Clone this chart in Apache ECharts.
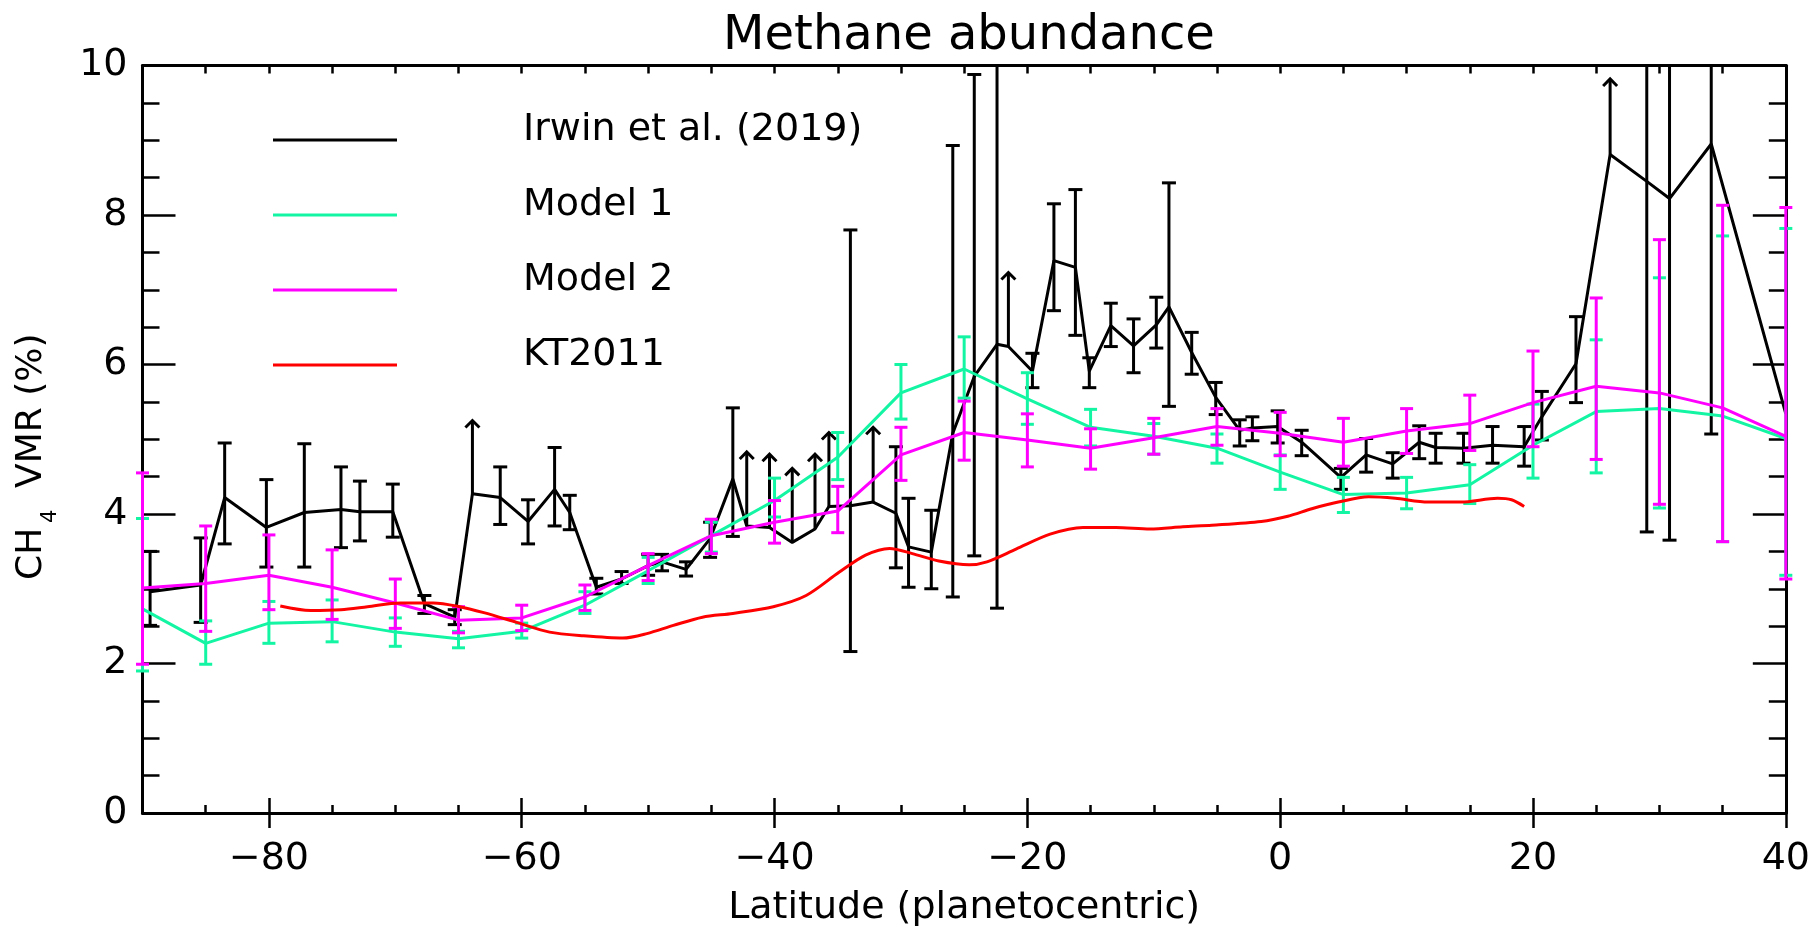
<!DOCTYPE html>
<html>
<head>
<meta charset="utf-8">
<title>Methane abundance</title>
<script src="https://cdn.jsdelivr.net/npm/echarts@6/dist/echarts.min.js"></script>
<style>
  html, body { margin: 0; padding: 0; background: #ffffff; }
  #chart { width: 1813px; height: 932px; }
</style>
</head>
<body>
<div id="chart"></div>
<script>
// Irwin et al. (2019): latitude (deg), CH4 VMR (%), lower / upper bounds.
// Points that are only lower limits have null bounds and an arrow tip value instead.
const irwinLat = [-89.4, -85.4, -83.5, -80.2, -77.2, -74.3, -72.8, -70.2, -67.7, -65.3,
  -63.9, -61.7, -59.5, -57.4, -56.2, -54.1, -52.1, -50.0, -48.9, -47.0,
  -45.1, -43.3, -42.2, -40.4, -38.6, -36.8, -35.7, -34.0, -32.2, -30.4,
  -29.4, -27.6, -25.9, -24.2, -22.4, -21.5, -19.6, -17.9, -16.2, -15.1,
  -13.4, -11.6, -9.8, -8.8, -7.0, -5.1, -3.2, -2.2, -0.2, 1.7,
  4.8, 6.8, 8.9, 11.0, 12.3, 14.5, 16.8, 19.3, 20.7, 23.4,
  26.1, 29.0, 30.8, 34.1, 40.0];
const irwinVmr = [2.96, 3.05, 4.22, 3.82, 4.02, 4.06, 4.03, 4.03, 2.80, 2.62,
  4.27, 4.22, 3.90, 4.33, 4.02, 3.02, 3.13, 3.31, 3.36, 3.26,
  3.67, 4.47, 3.84, 3.82, 3.62, 3.80, 4.10, 4.11, 4.16, 4.01,
  3.56, 3.49, 5.08, 5.84, 6.27, 6.24, 5.91, 7.39, 7.30, 5.91,
  6.52, 6.25, 6.53, 6.77, 6.16, 5.56, 5.12, 5.15, 5.17, 4.96,
  4.49, 4.79, 4.67, 4.96, 4.89, 4.88, 4.92, 4.90, 5.30, 6.01,
  8.81, 8.45, 8.22, 8.95, 5.34];
const irwinLow = [2.51, 2.55, 3.60, 3.29, 3.29, 3.55, 3.64, 3.69, 2.67, 2.52,
  null, 3.86, 3.60, 3.84, 3.79, 2.93, 3.07, 3.18, 3.24, 3.17,
  3.42, 3.70, null, null, null, null, null, 2.16, null, 3.28,
  3.02, 3.00, 2.89, 3.44, 2.74, null, 5.69, 6.72, 6.39, 5.69,
  6.24, 5.89, 6.22, 5.44, 5.87, 5.33, 4.91, 4.98, 4.95, 4.78,
  4.33, 4.56, 4.48, 4.74, 4.68, 4.68, 4.68, 4.64, 4.99, 5.49,
  null, 3.76, 3.65, 5.07, null];
const irwinHigh = [3.50, 3.68, 4.95, 4.46, 4.94, 4.63, 4.44, 4.40, 2.91, 2.72,
  null, 4.63, 4.19, 4.89, 4.25, 3.14, 3.23, 3.46, 3.46, 3.36,
  3.89, 5.42, null, null, null, null, null, 7.80, null, 4.90,
  4.21, 4.05, 8.93, 9.88, 14.3, null, 6.15, 8.15, 8.34, 6.09,
  6.82, 6.61, 6.90, 8.43, 6.43, 5.76, 5.26, 5.30, 5.38, 5.12,
  4.61, 5.01, 4.82, 5.18, 5.08, 5.08, 5.17, 5.17, 5.64, 6.64,
  null, 19.0, 18.5, 15.8, null];
const irwinTip = [null, null, null, null, null, null, null, null, null, null,
  5.25, null, null, null, null, null, null, null, null, null,
  null, null, 4.83, 4.80, 4.61, 4.80, 5.09, null, 5.16, null,
  null, null, null, null, null, 7.23, null, null, null, null,
  null, null, null, null, null, null, null, null, null, null,
  null, null, null, null, null, null, null, null, null, null,
  9.82, null, null, null, null];

// Model grid: every 5 degrees of latitude
const modelLat = [-90, -85, -80, -75, -70, -65, -60, -55, -50, -45, -40, -35, -30, -25,
  -20, -15, -10, -5, 0, 5, 10, 15, 20, 25, 30, 35, 40];
const model1Vmr = [2.73, 2.27, 2.54, 2.56, 2.42, 2.33, 2.43, 2.78, 3.24, 3.71, 4.18, 4.76, 5.62, 5.94,
  5.54, 5.16, 5.04, 4.88, 4.56, 4.26, 4.28, 4.39, 4.92, 5.37, 5.41, 5.31, 5.01];
const model1Low = [1.90, 1.99, 2.27, 2.29, 2.23, 2.21, 2.34, 2.67, 3.07, 3.49, 3.96, 4.46, 5.27, 5.55,
  5.20, 4.91, 4.80, 4.68, 4.33, 4.02, 4.07, 4.14, 4.48, 4.55, 4.08, 3.63, 3.18];
const model1High = [3.94, 2.57, 2.83, 2.85, 2.61, 2.43, 2.54, 2.96, 3.42, 3.89, 4.48, 5.09, 6.00, 6.37,
  5.89, 5.40, 5.21, 5.07, 4.79, 4.49, 4.49, 4.66, 5.47, 6.33, 7.16, 7.72, 7.82];
const model2Vmr = [3.01, 3.07, 3.18, 3.02, 2.81, 2.58, 2.61, 2.89, 3.31, 3.71, 3.89, 4.04, 4.79, 5.09,
  4.99, 4.88, 5.02, 5.17, 5.08, 4.96, 5.11, 5.21, 5.49, 5.71, 5.62, 5.42, 5.04];
const model2Low = [1.99, 2.43, 2.72, 2.59, 2.47, 2.41, 2.44, 2.71, 3.11, 3.47, 3.61, 3.75, 4.45, 4.72,
  4.63, 4.60, 4.80, 4.92, 4.78, 4.64, 4.81, 4.85, 4.90, 4.73, 4.13, 3.63, 3.13];
const model2High = [4.55, 3.84, 3.72, 3.52, 3.13, 2.76, 2.78, 3.05, 3.47, 3.93, 4.18, 4.37, 5.16, 5.51,
  5.34, 5.14, 5.28, 5.41, 5.36, 5.28, 5.41, 5.59, 6.18, 6.89, 7.67, 8.13, 8.10];

// KT2011 profile
const ktLat = [-79.1, -76.7, -74.3, -72.2, -69.6, -67.0, -64.9, -63.0, -60.4, -57.8,
  -55.1, -52.0, -50.1, -48.0, -45.7, -43.3, -40.1, -37.5, -34.9, -32.8,
  -30.9, -29.1, -27.0, -24.6, -23.2, -20.9, -18.2, -15.6, -13.0, -10.3,
  -7.7, -5.4, -1.5, 0.6, 2.5, 4.6, 7.0, 9.1, 11.7, 14.3,
  17.2, 18.3, 19.3];
const ktVmr = [2.77, 2.71, 2.72, 2.76, 2.81, 2.81, 2.76, 2.68, 2.55, 2.42,
  2.37, 2.34, 2.40, 2.51, 2.62, 2.67, 2.76, 2.91, 3.22, 3.45,
  3.54, 3.47, 3.37, 3.32, 3.36, 3.53, 3.73, 3.82, 3.82, 3.80,
  3.83, 3.85, 3.90, 3.97, 4.07, 4.16, 4.23, 4.21, 4.16, 4.16,
  4.21, 4.19, 4.10];

// Axis ticks and legend entries
const xLabelValues = [-80, -60, -40, -20, 0, 20, 40];
const yLabelValues = [0, 2, 4, 6, 8, 10];
const seriesNames = ['Irwin et al. (2019)', 'Model 1', 'Model 2', 'KT2011'];

const COLORS = { irwin: '#000000', model1: '#14f5a4', model2: '#ff00ff', kt: '#ff0000' };
const FONT = 'DejaVu Sans';
const LINE_W = 3;

const pairs = (xs, ys) => xs.map((x, i) => [x, ys[i]]);

// [lat, from, to, kind] ; kind 0 = capped error bar, 1 = lower-limit arrow
const irwinBars = [];
irwinLat.forEach((lat, i) => {
  if (irwinLow[i] != null && irwinHigh[i] != null) irwinBars.push([lat, irwinLow[i], irwinHigh[i], 0]);
  if (irwinTip[i] != null) irwinBars.push([lat, irwinVmr[i], irwinTip[i], 1]);
});
const model1Bars = modelLat.map((lat, i) => [lat, model1Low[i], model1High[i], 0]);
const model2Bars = modelLat.map((lat, i) => [lat, model2Low[i], model2High[i], 0]);

function errorBarRenderer(color, capHalf, width) {
  return function (params, api) {
    const cs = params.coordSys;
    const top = cs.y, bottom = cs.y + cs.height;
    const lat = api.value(0);
    const kind = api.value(3);
    const a = api.coord([lat, api.value(1)]);
    const b = api.coord([lat, api.value(2)]);
    const x = a[0];
    const clampY = (y) => Math.min(Math.max(y, top), bottom);
    const style = { stroke: color, lineWidth: width, fill: null, lineCap: 'butt' };
    const children = [{
      type: 'line',
      shape: { x1: x, y1: clampY(a[1]), x2: x, y2: clampY(b[1]) },
      style: style
    }];
    if (kind === 1) {
      const ty = clampY(b[1]);
      children.push({
        type: 'polyline',
        shape: { points: [[x - capHalf, ty + capHalf], [x, ty], [x + capHalf, ty + capHalf]] },
        style: style
      });
    } else {
      [a[1], b[1]].forEach((y) => {
        if (y >= top - 0.5 && y <= bottom + 0.5) {
          children.push({ type: 'line', shape: { x1: x - capHalf, y1: y, x2: x + capHalf, y2: y }, style: style });
        }
      });
    }
    return { type: 'group', children: children };
  };
}

const chart = echarts.init(document.getElementById('chart'), null, { renderer: 'canvas' });

const gridBox = { left: 142.5, right: 26, top: 65.5, bottom: 117.5 };
const axisLine = { show: true, onZero: false, lineStyle: { color: '#000', width: 3 } };
const fmtLat = (v) => (v < 0 ? '\u2212' + Math.abs(v) : String(v));

// Legend drawn as lines + text, one row per series
const legendColors = [COLORS.irwin, COLORS.model1, COLORS.model2, COLORS.kt];
const legendGraphics = [];
seriesNames.forEach((name, i) => {
  const y = 140 + i * 75;
  legendGraphics.push({
    type: 'line', z: 100,
    shape: { x1: 273, y1: y, x2: 397, y2: y },
    style: { stroke: legendColors[i], lineWidth: LINE_W }
  });
  legendGraphics.push({
    type: 'text', z: 100, x: 523, y: y - 10,
    style: { text: name, fill: '#000', font: '38px "' + FONT + '"', textAlign: 'left', textVerticalAlign: 'middle' }
  });
});

// Rotated y-axis title with subscript
legendGraphics.push({
  type: 'group', x: 43, y: 580, rotation: Math.PI / 2, z: 100,
  children: [
    { type: 'text', x: 0, y: -11, style: { text: 'CH', fill: '#000', font: '36px "' + FONT + '"', textAlign: 'left', textVerticalAlign: 'middle' } },
    { type: 'text', x: 57, y: 8, style: { text: '4', fill: '#000', font: '21px "' + FONT + '"', textAlign: 'left', textVerticalAlign: 'middle' } },
    { type: 'text', x: 92, y: -11, style: { text: 'VMR (%)', fill: '#000', font: '36px "' + FONT + '"', textAlign: 'left', textVerticalAlign: 'middle' } }
  ]
});

const option = {
  backgroundColor: '#ffffff',
  animation: false,
  title: {
    text: 'Methane abundance',
    left: 964, top: 8, textAlign: 'center',
    textStyle: { fontFamily: FONT, fontSize: 48, fontWeight: 'normal', color: '#000' }
  },
  grid: Object.assign({ containLabel: false }, gridBox),
  xAxis: [
    { // bottom axis: minor ticks every 5 degrees, labels every 20
      type: 'value', position: 'bottom', min: -90, max: 40, interval: 5,
      axisLine: axisLine,
      axisTick: { show: true, inside: true, length: 8, lineStyle: { color: '#000', width: 2.5 } },
      axisLabel: {
        show: true, margin: 27, color: '#000', fontFamily: FONT, fontSize: 38,
        formatter: (v) => (xLabelValues.indexOf(v) >= 0 ? fmtLat(v) : '')
      },
      splitLine: { show: false },
      name: 'Latitude (planetocentric)', nameLocation: 'middle', nameGap: 76,
      nameTextStyle: { color: '#000', fontFamily: FONT, fontSize: 38 }
    },
    { // bottom axis: major ticks
      type: 'value', position: 'bottom', min: -90, max: 40, minInterval: 20, maxInterval: 20,
      axisLine: { show: false },
      axisTick: { show: true, inside: true, length: 15, customValues: xLabelValues, lineStyle: { color: '#000', width: 2.5 } },
      axisLabel: { show: false }, splitLine: { show: false }
    },
    { // top axis: minor ticks
      type: 'value', position: 'top', min: -90, max: 40, interval: 5,
      axisLine: axisLine,
      axisTick: { show: true, inside: true, length: 8, lineStyle: { color: '#000', width: 2.5 } },
      axisLabel: { show: false }, splitLine: { show: false }
    },
    { // top axis: major ticks
      type: 'value', position: 'top', min: -90, max: 40, minInterval: 20, maxInterval: 20,
      axisLine: { show: false },
      axisTick: { show: true, inside: true, length: 15, customValues: xLabelValues, lineStyle: { color: '#000', width: 2.5 } },
      axisLabel: { show: false }, splitLine: { show: false }
    }
  ],
  yAxis: [
    {
      type: 'value', position: 'left', min: 0, max: 10, interval: 2,
      axisLine: axisLine,
      axisTick: { show: true, inside: true, length: 33, lineStyle: { color: '#000', width: 2.5 } },
      minorTick: { show: true, splitNumber: 4, length: 17, lineStyle: { color: '#000', width: 2.5 } },
      axisLabel: {
        show: true, margin: 15, color: '#000', fontFamily: FONT, fontSize: 38, padding: [12, 0, 0, 0],
        formatter: (v) => (yLabelValues.indexOf(v) >= 0 ? String(v) : '')
      },
      splitLine: { show: false }, minorSplitLine: { show: false }
    },
    {
      type: 'value', position: 'right', min: 0, max: 10, interval: 2,
      axisLine: axisLine,
      axisTick: { show: true, inside: true, length: 33, lineStyle: { color: '#000', width: 2.5 } },
      minorTick: { show: true, splitNumber: 4, length: 17, lineStyle: { color: '#000', width: 2.5 } },
      axisLabel: { show: false },
      splitLine: { show: false }, minorSplitLine: { show: false }
    }
  ],
  graphic: legendGraphics,
  series: [
    {
      name: seriesNames[0] + ' errors', type: 'custom', xAxisIndex: 0, yAxisIndex: 0,
      renderItem: errorBarRenderer(COLORS.irwin, 7, LINE_W),
      data: irwinBars, encode: { x: 0, y: [1, 2] }, z: 2, silent: true
    },
    {
      name: seriesNames[0], type: 'line', xAxisIndex: 0, yAxisIndex: 0,
      data: pairs(irwinLat, irwinVmr), symbol: 'none',
      lineStyle: { color: COLORS.irwin, width: LINE_W }, z: 2, silent: true
    },
    {
      name: seriesNames[1] + ' errors', type: 'custom', xAxisIndex: 0, yAxisIndex: 0,
      renderItem: errorBarRenderer(COLORS.model1, 6.5, LINE_W),
      data: model1Bars, encode: { x: 0, y: [1, 2] }, z: 3, silent: true
    },
    {
      name: seriesNames[1], type: 'line', xAxisIndex: 0, yAxisIndex: 0,
      data: pairs(modelLat, model1Vmr), symbol: 'none',
      lineStyle: { color: COLORS.model1, width: LINE_W }, z: 3, silent: true
    },
    {
      name: seriesNames[2] + ' errors', type: 'custom', xAxisIndex: 0, yAxisIndex: 0,
      renderItem: errorBarRenderer(COLORS.model2, 6.5, LINE_W),
      data: model2Bars, encode: { x: 0, y: [1, 2] }, z: 4, silent: true
    },
    {
      name: seriesNames[2], type: 'line', xAxisIndex: 0, yAxisIndex: 0,
      data: pairs(modelLat, model2Vmr), symbol: 'none',
      lineStyle: { color: COLORS.model2, width: LINE_W }, z: 4, silent: true
    },
    {
      name: seriesNames[3], type: 'line', xAxisIndex: 0, yAxisIndex: 0,
      data: pairs(ktLat, ktVmr), symbol: 'none', smooth: 0.3,
      lineStyle: { color: COLORS.kt, width: LINE_W }, z: 5, silent: true
    }
  ]
};

chart.setOption(option);
</script>
</body>
</html>
